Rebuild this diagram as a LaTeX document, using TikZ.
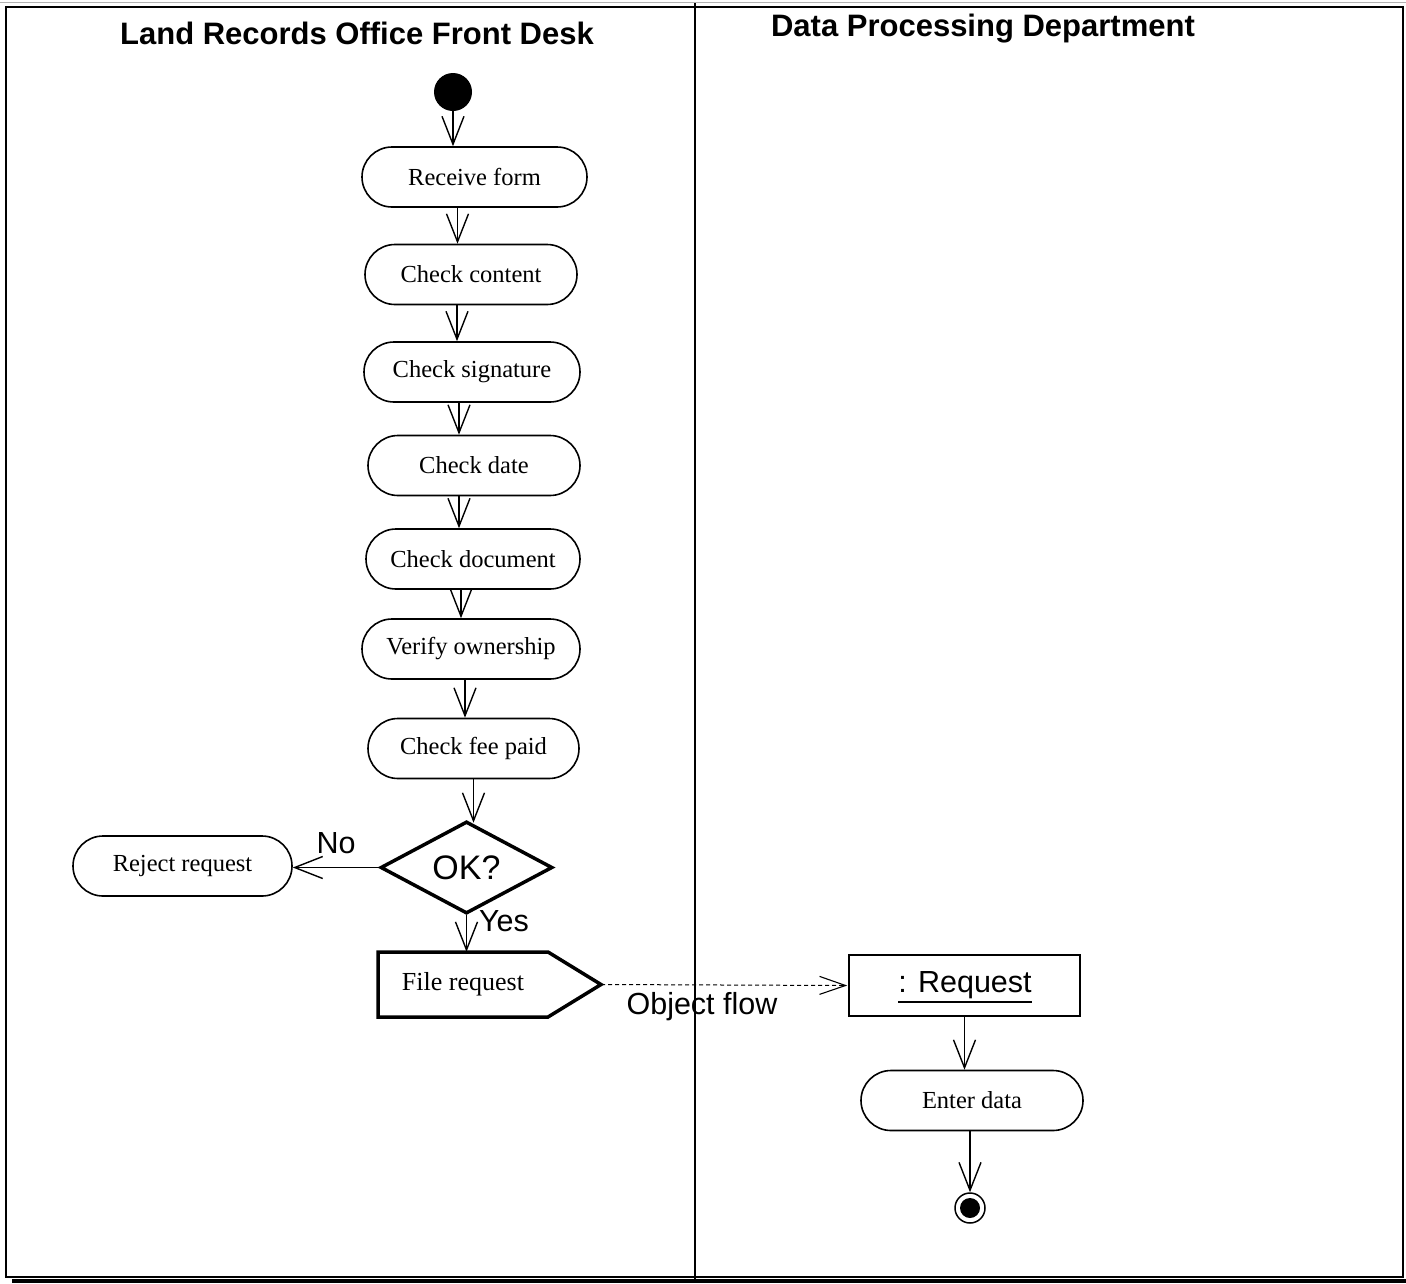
\documentclass[tikz,border=0pt]{standalone}
\usepackage{fontspec}
\setmainfont{Liberation Serif}
\setsansfont{Liberation Sans}
\usetikzlibrary{arrows.meta,shapes.geometric,calc}

\begin{document}
\begin{tikzpicture}[x=1pt,y=-1pt,
  act/.style={draw,line width=1.6pt,rounded corners=30pt,minimum height=60pt,
    inner sep=0pt,font=\fontsize{24.5}{28}\selectfont},
  flow/.style={line width=1.5pt,-{Straight Barb[length=28pt,width=22pt,line width=1.4pt]}},
  objflow/.style={line width=1pt,dash pattern=on 4pt off 3pt,
    -{Straight Barb[length=26pt,width=18pt,line width=1.1pt,sep=1pt]}},
  lbl/.style={font=\sffamily\fontsize{30.5}{34}\selectfont,inner sep=0pt},
  lanetitle/.style={font=\sffamily\bfseries\fontsize{31}{35}\selectfont,inner sep=0pt}]

  % page and swimlane frame
  \useasboundingbox (0,0) rectangle (1406,1283);
  \fill[white] (0,0) rectangle (1406,1283);
  \draw[gray!60,line width=1.5pt] (0,2.5) -- (1406,2.5);
  \draw[line width=1.5pt] (6,7) rectangle (1403,1277);
  \fill[black] (12,1279) rectangle (1406,1283);
  \draw[line width=1.5pt] (695,3) -- (695,1280);

  % lane titles
  \node[lanetitle] (lane1) at (357,33) {Land Records Office Front Desk};
  \node[lanetitle] (lane2) at (983,29) {Data Processing Department};

  % front desk activities
  \node[circle,fill=black,minimum size=38pt,inner sep=0pt] (start) at (453,92) {};
  \node[act,minimum width=225pt] (recv) at (474.5,177) {Receive form};
  \node[act,minimum width=212pt] (cont) at (471,274.5) {Check content};
  \node[act,minimum width=216pt] (sig)  at (472,372) {Check signature};
  \node[act,minimum width=212pt] (date) at (474,465.5) {Check date};
  \node[act,minimum width=214pt] (doc)  at (473,559) {Check document};
  \node[act,minimum width=218pt] (ver)  at (471,649) {Verify ownership};
  \node[act,minimum width=211pt] (fee)  at (473.5,748.5) {Check fee paid};

  \node[diamond,draw,line width=3.5pt,minimum width=172pt,minimum height=86pt,
        inner sep=0pt,font=\sffamily\fontsize{34}{38}\selectfont] (ok) at (466.5,867.5) {OK?};
  \node[act,minimum width=219pt] (rej) at (182.5,866) {Reject request};

  % send-signal activity
  \node[minimum width=170pt,minimum height=65pt,inner sep=0pt,
        font=\fontsize{26}{30}\selectfont] (file) at (463,984.5) {File request};
  \coordinate (filetip) at (601,984.5);
  \draw[line width=3.5pt,line join=miter]
    (378,952) -- (548,952) -- (filetip) -- (548,1017) -- (378,1017) -- cycle;

  % data processing activities
  \node[draw,line width=1.6pt,minimum width=231pt,minimum height=61pt,inner sep=0pt,
        font=\sffamily\fontsize{30.5}{34}\selectfont] (req) at (964.5,985.5) {};
  \node[font=\sffamily\fontsize{30.5}{34}\selectfont,inner sep=0pt] (reqtxt) at (965,985) {: Request};
  \draw[line width=1.4pt] ([yshift=-3pt]reqtxt.south west) -- ([yshift=-3pt]reqtxt.south east);
  \node[act,minimum width=222pt] (enter) at (972,1100.5) {Enter data};
  \node[circle,draw,line width=1.5pt,minimum size=30pt,inner sep=0pt] (stop) at (970,1208) {};
  \fill[black] (stop.center) circle (10pt);

  % control flow
  \draw[flow] (start.south) -- (start.south |- recv.north);
  \draw[flow] ([xshift=-17pt]recv.south) -- ([xshift=-17pt]recv.south |- cont.north);
  \draw[flow] ([xshift=-14pt]cont.south) -- ([xshift=-14pt]cont.south |- sig.north);
  \draw[flow] ([xshift=-13pt]sig.south) -- ([xshift=-13pt]sig.south |- date.north);
  \draw[flow] ([xshift=-15pt]date.south) -- ([xshift=-15pt]date.south |- doc.north);
  \draw[flow] ([xshift=-12pt]doc.south) -- ([xshift=-12pt]doc.south |- ver.north);
  \draw[flow] ([xshift=-6pt]ver.south) -- ([xshift=-6pt]ver.south |- fee.north);
  \draw[flow] (fee.south) -- ([yshift=-3pt]fee.south |- ok.north);
  \draw[flow] (ok.west) -- (ok.west -| rej.east);
  \draw[flow] (ok.south) -- (ok.south |- file.north);
  \draw[objflow] (filetip) -- (req.west);
  \draw[flow] (req.south) -- (req.south |- enter.north);
  \draw[flow] (stop.north |- enter.south) -- (stop.north);

  % flow labels
  \node[lbl] (nolbl) at (336,843) {No};
  \node[lbl] (yeslbl) at (504,921) {Yes};
  \node[lbl] (oflbl) at (702,1007) {Object flow};
\end{tikzpicture}
\end{document}
